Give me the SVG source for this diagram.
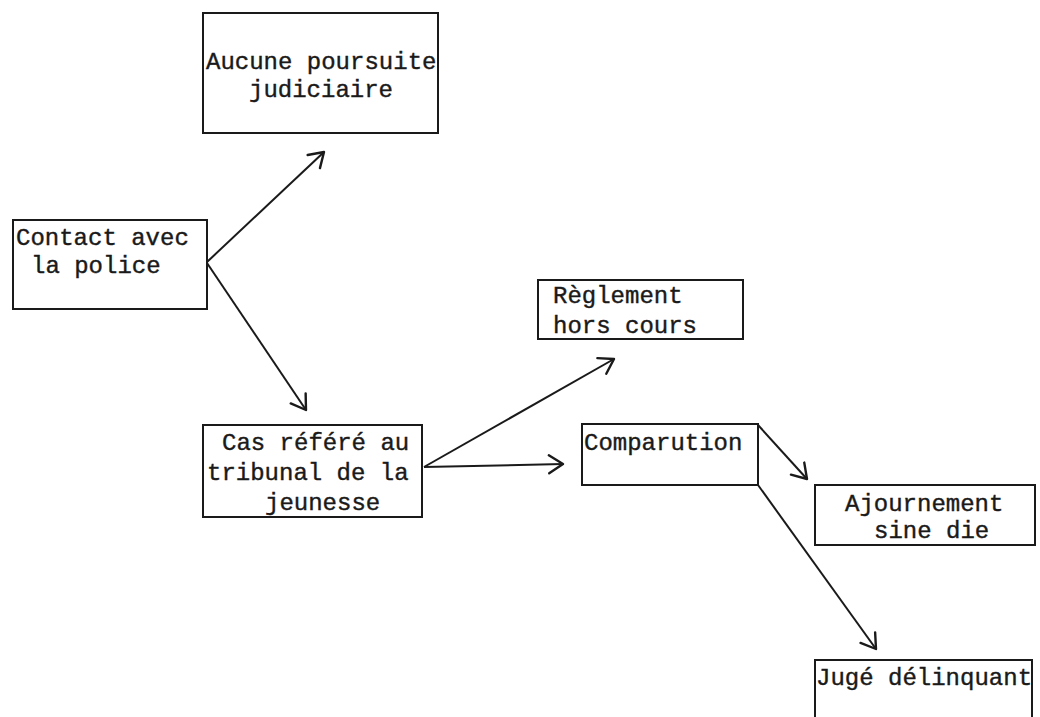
<svg xmlns="http://www.w3.org/2000/svg" width="1040" height="717" viewBox="0 0 1040 717">
<defs>
<style>
.box{fill:#fff;stroke:#1a1a1a;stroke-width:2}
.t{font-family:"Liberation Mono","Courier New",monospace;font-size:24px;fill:#1a1a1a;stroke:#1a1a1a;stroke-width:0.4;white-space:pre}
.c{fill:none;stroke:#1a1a1a;stroke-width:2;marker-end:url(#ah)}
</style>
<marker id="ah" viewBox="0 0 24 24" refX="19" refY="12" markerWidth="24" markerHeight="24" markerUnits="userSpaceOnUse" orient="auto">
<path d="M5,3 L19,12 L5,21" fill="none" stroke="#1a1a1a" stroke-width="2.4" stroke-linecap="round" stroke-linejoin="round"/>
</marker>
</defs>
<rect width="1040" height="717" fill="#fff"/>
<g id="connectors">
<line class="c" x1="207" y1="262" x2="324" y2="152"/>
<line class="c" x1="207" y1="263" x2="306" y2="410"/>
<line class="c" x1="424" y1="467" x2="614" y2="359"/>
<line class="c" x1="424" y1="467" x2="563" y2="464"/>
<line class="c" x1="758" y1="425" x2="807" y2="479"/>
<line class="c" x1="758" y1="485" x2="876" y2="649"/>
</g>
<g id="n_aucune">
<rect class="box" x="203" y="13" width="235" height="120"/>
<text class="t" x="206" y="69">Aucune poursuite</text>
<text class="t" x="249" y="97">judiciaire</text>
</g>
<g id="n_contact">
<rect class="box" x="13" y="220" width="194" height="89"/>
<text class="t" x="16" y="245">Contact avec</text>
<text class="t" x="31" y="273">la police</text>
</g>
<g id="n_cas">
<rect class="box" x="203" y="425" width="219" height="92"/>
<text class="t" x="222" y="450">Cas référé au</text>
<text class="t" x="207" y="480">tribunal de la</text>
<text class="t" x="265" y="510">jeunesse</text>
</g>
<g id="n_reglement">
<rect class="box" x="538" y="280" width="205" height="59"/>
<text class="t" x="553" y="303">Règlement</text>
<text class="t" x="553" y="333">hors cours</text>
</g>
<g id="n_comparution">
<rect class="box" x="582" y="424" width="176" height="61"/>
<text class="t" x="584" y="450">Comparution</text>
</g>
<g id="n_ajournement">
<rect class="box" x="815" y="485" width="220" height="60"/>
<text class="t" x="845" y="511">Ajournement</text>
<text class="t" x="874" y="538">sine die</text>
</g>
<g id="n_juge">
<rect class="box" x="815" y="660" width="217" height="80"/>
<text class="t" x="816" y="685">Jugé délinquant</text>
</g>
</svg>
